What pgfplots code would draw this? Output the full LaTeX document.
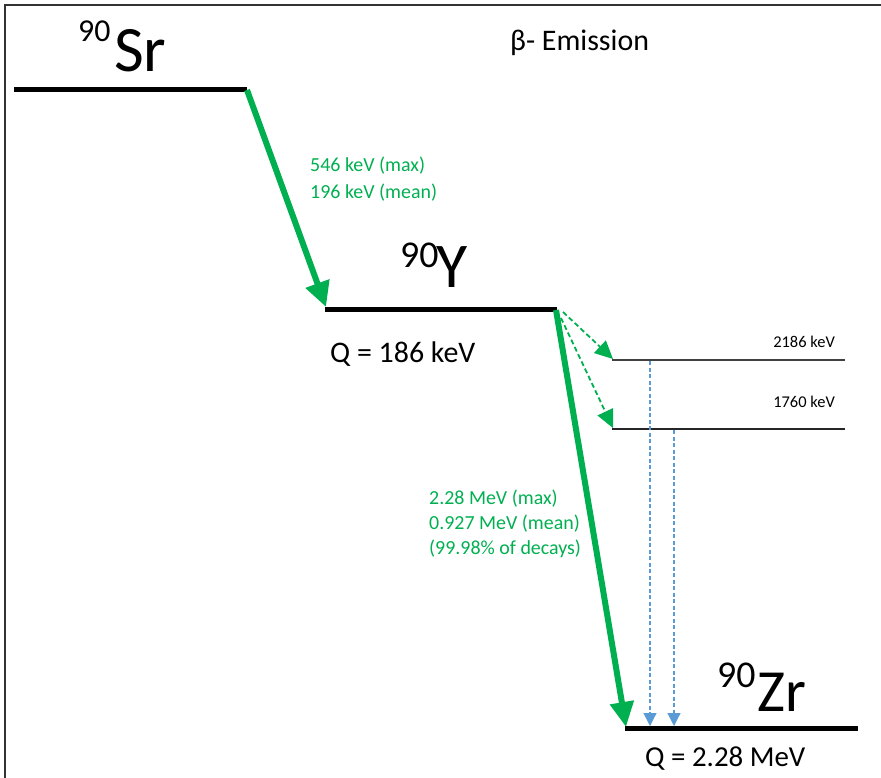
\documentclass[border=0pt]{standalone}
\usepackage{pgfplots}
\pgfplotsset{compat=1.18}
\usetikzlibrary{arrows.meta}
\usepackage{fontspec}
\setmainfont{Carlito}
\definecolor{dgreen}{HTML}{00B050}
\definecolor{lblue}{HTML}{5B9BD5}
\definecolor{frame}{HTML}{333333}
\begin{document}
\begin{tikzpicture}
\begin{axis}[scale only axis, width=881bp, height=778bp,
  xmin=0, xmax=881, ymin=0, ymax=778, y dir=reverse,
  hide axis, clip=false]
\coordinate (bl) at (axis cs:0,778);
\coordinate (tr) at (axis cs:881,0);
% frame
\addplot[draw=frame, line width=2.2bp] coordinates {(5,778) (5,5) (881,5)};
% levels
\addplot[black, line width=5bp] coordinates {(14,90) (247,90)};
\addplot[black, line width=5bp] coordinates {(325,309) (557,309)};
\addplot[black, line width=5bp] coordinates {(625,728) (858,728)};
\addplot[black!75, line width=1.4bp] coordinates {(612,360) (845,360)};
\addplot[black!85, line width=1.4bp] coordinates {(612,429) (845,429)};
% beta arrows
\addplot[dgreen, line width=6bp, -{Triangle[length=25bp,width=24bp]}] coordinates {(247,90) (326,307)};
\addplot[dgreen, line width=6bp, -{Triangle[length=25bp,width=23bp]}] coordinates {(556,310) (626,727)};
\addplot[dgreen, line width=1.8bp, dash pattern=on 5bp off 3bp, -{Triangle[length=18bp,width=17bp]}] coordinates {(563,312) (613,359)};
\addplot[dgreen, line width=1.8bp, dash pattern=on 5bp off 3bp, -{Triangle[length=18bp,width=17bp]}] coordinates {(561,318) (613,428)};
% gamma arrows
\addplot[lblue, line width=1.1bp, dash pattern=on 4bp off 2.5bp, -{Triangle[length=13bp,width=13bp]}] coordinates {(650,361) (650,726)};
\addplot[lblue, line width=1.1bp, dash pattern=on 4bp off 2.5bp, -{Triangle[length=13bp,width=13bp]}] coordinates {(674,430) (674,726)};
% labels
\node[anchor=base west, inner sep=0pt, font=\fontsize{32}{32}\selectfont] at (axis cs:78,42) {90};
\node[anchor=base west, inner sep=0pt, font=\fontsize{65}{65}\selectfont] at (axis cs:114,72) {Sr};
\node[anchor=base west, inner sep=0pt, font=\fontsize{38}{38}\selectfont] at (axis cs:400,267) {90};
\node[anchor=base west, inner sep=0pt, font=\fontsize{64}{64}\selectfont] at (axis cs:436,287) {Y};
\node[anchor=base west, inner sep=0pt, font=\fontsize{38}{38}\selectfont] at (axis cs:717,687) {90};
\node[anchor=base west, inner sep=0pt, font=\fontsize{60}{60}\selectfont] at (axis cs:757,711) {Zr};
\node[anchor=base west, inner sep=0pt, font=\fontsize{30}{30}\selectfont] at (axis cs:510,51) {β- Emission};
\node[anchor=base west, inner sep=0pt, font=\fontsize{30}{30}\selectfont] at (axis cs:330,362) {Q = 186 keV};
\node[anchor=base west, inner sep=0pt, font=\fontsize{29}{29}\selectfont] at (axis cs:645,766) {Q = 2.28 MeV};
\node[anchor=base east, inner sep=0pt, font=\fontsize{16.5}{16.5}\selectfont] at (axis cs:835,347) {2186 keV};
\node[anchor=base east, inner sep=0pt, font=\fontsize{16.5}{16.5}\selectfont] at (axis cs:835,407) {1760 keV};
\node[anchor=base west, inner sep=0pt, text=dgreen, font=\fontsize{20}{20}\selectfont] at (axis cs:310,172) {546 keV (max)};
\node[anchor=base west, inner sep=0pt, text=dgreen, font=\fontsize{20}{20}\selectfont] at (axis cs:310,199) {196 keV (mean)};
\node[anchor=base west, inner sep=0pt, text=dgreen, font=\fontsize{20}{20}\selectfont] at (axis cs:429,504) {2.28 MeV (max)};
\node[anchor=base west, inner sep=0pt, text=dgreen, font=\fontsize{20}{20}\selectfont] at (axis cs:429,529) {0.927 MeV (mean)};
\node[anchor=base west, inner sep=0pt, text=dgreen, font=\fontsize{20}{20}\selectfont] at (axis cs:429,554) {(99.98\% of decays)};
\end{axis}
\pgfresetboundingbox
\path (bl) rectangle (tr);
\end{tikzpicture}
\end{document}
